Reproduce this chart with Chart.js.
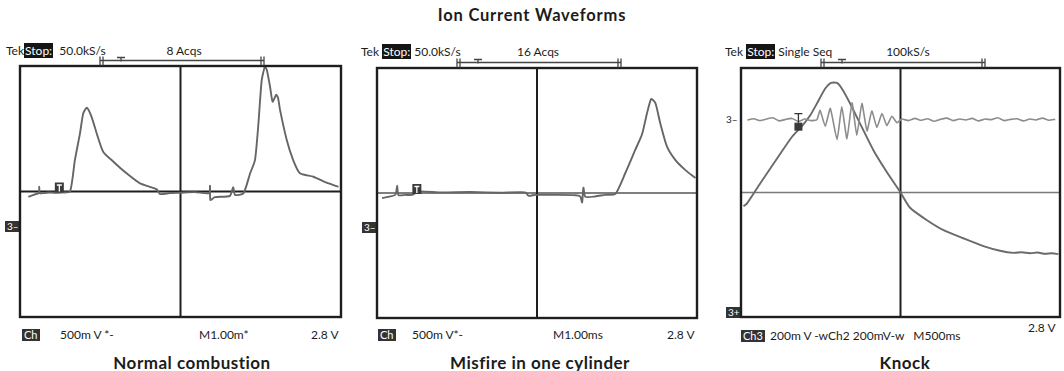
<!DOCTYPE html>
<html><head><meta charset="utf-8">
<script src="https://cdn.jsdelivr.net/npm/chart.js@4.4.1/dist/chart.umd.min.js"></script>
<style>
html,body{margin:0;padding:0;background:#fff;overflow:hidden;width:1064px;height:371px;}
body{position:relative;font-family:Lato,"Open Sans",sans-serif;color:#1c1c1c;}
.t{position:absolute;white-space:nowrap;font-size:12px;line-height:12px;}
.c{transform:translateX(-50%);}
.inv{background:#151515;color:#fff;padding:0 1px;}
.box{background:#333;color:#fff;padding:0 2px;font-size:11px;}
.sub{position:absolute;white-space:nowrap;font-weight:700;font-size:17px;letter-spacing:0.5px;line-height:18px;transform:translateX(-50%);}
canvas{position:absolute;}
</style></head><body>
<div class="sub" style="left:532px;top:6px;font-size:16.5px;letter-spacing:0.8px">Ion Current Waveforms</div>

<div class="t" style="left:6px;top:45px">Tek<span class="inv">Stop:</span>&nbsp; 50.0kS/s</div>
<div class="t c" style="left:184px;top:45px">8 Acqs</div>
<div class="t" style="left:361px;top:46px">Tek <span class="inv">Stop:</span> 50.0kS/s</div>
<div class="t c" style="left:538px;top:46px">16 Acqs</div>
<div class="t" style="left:725px;top:46px">Tek <span class="inv">Stop:</span> Single Seq</div>
<div class="t c" style="left:908px;top:46px">100kS/s</div>

<div class="t box" style="left:5px;top:221px;font-size:10px;line-height:11px">3&#8211;</div>
<div class="t box" style="left:362px;top:222px;font-size:10px;line-height:11px">3&#8211;</div>
<div class="t" style="left:726px;top:113px;font-size:10px">3&#8211;</div>
<div class="t box" style="left:726px;top:307px;font-size:10px;line-height:11px">3+</div>

<div class="t box" style="left:22px;top:329px">Ch</div>
<div class="t" style="left:60px;top:329px">500m V *-</div>
<div class="t" style="left:199px;top:329px">M1.00m*</div>
<div class="t" style="left:311px;top:329px">2.8 V</div>
<div class="t box" style="left:378px;top:329px">Ch</div>
<div class="t" style="left:412px;top:329px">500m V*-</div>
<div class="t" style="left:553px;top:329px">M1.00ms</div>
<div class="t" style="left:667px;top:329px">2.8 V</div>
<div class="t box" style="left:741px;top:330px">Ch3</div>
<div class="t" style="left:770px;top:330px">200m V -wCh2 200mV-w&nbsp;&nbsp; M500ms</div>
<div class="t" style="left:1028px;top:322px">2.8 V</div>

<div class="sub" style="left:192px;top:354px">Normal combustion</div>
<div class="sub" style="left:540px;top:354px">Misfire in one cylinder</div>
<div class="sub" style="left:905px;top:354px">Knock</div>

<canvas id="c1" width="352" height="290" style="left:0px;top:40px"></canvas>
<canvas id="c2" width="348" height="290" style="left:356px;top:40px"></canvas>
<canvas id="c3" width="348" height="290" style="left:716px;top:40px"></canvas>

<script>
// ---- Data (x in divisions 0..10, y in divisions -4..4) ----
const normalX = [0.26,0.50,0.59,0.60,0.62,0.93,1.04,1.31,1.56,1.71,1.87,1.97,2.08,2.23,2.39,2.59,2.91,3.32,3.74,4.26,4.36,4.67,4.98,5.45,5.89,5.92,5.93,6.07,6.54,6.64,6.70,6.96,7.17,7.32,7.42,7.53,7.63,7.69,7.79,7.87,7.98,8.04,8.10,8.31,8.51,8.72,9.14,9.55,9.92];
const normalY = [-0.17,-0.08,-0.05,0.15,-0.05,-0.03,-0.04,-0.03,0.00,1.00,1.86,2.49,2.67,2.38,1.85,1.27,0.95,0.58,0.26,0.07,-0.08,-0.05,-0.04,-0.02,-0.05,0.18,-0.27,-0.18,-0.14,0.14,-0.11,-0.06,0.58,1.00,2.07,3.55,3.98,3.87,3.34,2.86,3.08,2.98,2.60,1.64,1.00,0.58,0.47,0.28,0.15];

const misfireX = [0.16,0.57,0.63,0.67,0.88,1.09,1.30,1.98,2.92,3.85,4.63,4.74,4.95,5.57,6.20,6.35,6.41,6.45,6.51,6.82,7.13,7.45,7.76,8.07,8.28,8.44,8.57,8.70,8.85,9.06,9.32,9.63,9.95];
const misfireY = [-0.16,-0.06,0.23,-0.07,-0.06,-0.06,0.05,0.02,0.03,0.01,0.02,-0.09,-0.06,-0.06,-0.07,-0.11,-0.30,0.17,-0.12,-0.11,-0.06,-0.03,0.64,1.38,1.87,2.56,3.01,2.88,2.24,1.49,1.06,0.74,0.48];

const knockCh2X = [0.08,0.19,0.60,1.13,1.60,1.91,2.17,2.38,2.64,2.82,3.01,3.16,3.42,3.73,4.15,4.57,4.99,5.30,5.83,6.35,6.97,7.60,8.12,8.54,8.80,9.06,9.30,9.53,9.75,9.95];
const knockCh2Y = [-0.44,-0.35,0.29,1.09,1.79,2.13,2.48,2.86,3.34,3.52,3.52,3.34,2.86,2.22,1.36,0.66,0.02,-0.49,-0.89,-1.21,-1.47,-1.72,-1.87,-1.94,-1.92,-1.95,-1.93,-1.97,-1.95,-1.98];

const knockCh3X = [0.20,0.40,0.60,0.80,1.00,1.20,1.40,1.60,1.80,2.00,2.20,2.38,2.48,2.64,2.80,3.01,3.16,3.32,3.48,3.63,3.79,3.95,4.10,4.26,4.42,4.57,4.73,4.89,5.04,5.25,5.45,5.65,5.85,6.05,6.25,6.45,6.65,6.85,7.05,7.25,7.45,7.65,7.85,8.05,8.25,8.45,8.65,8.85,9.05,9.25,9.45,9.65,9.85];
const knockCh3Y = [2.33,2.37,2.31,2.36,2.40,2.30,2.35,2.38,2.28,2.36,2.31,2.34,2.64,2.13,2.70,1.70,2.75,1.73,2.88,1.84,2.86,1.98,2.62,2.09,2.54,2.15,2.45,2.24,2.36,2.31,2.38,2.32,2.37,2.29,2.35,2.39,2.31,2.36,2.33,2.38,2.30,2.36,2.34,2.40,2.31,2.35,2.37,2.30,2.36,2.33,2.39,2.32,2.35];

const trigger1 = 1.21, trigger2 = 1.23, trigger3 = 1.80;

function pts(xs, ys){ return xs.map((x,i)=>({x:x, y:ys[i]})); }

const scopePlugin = {
  id:'scope',
  beforeDatasetsDraw(chart, args, o){
    const {ctx, chartArea:a, scales:{x,y}} = chart;
    ctx.save();
    const cx = x.getPixelForValue(5), cy = y.getPixelForValue(0);
    ctx.strokeStyle = o.hColor; ctx.lineWidth = o.hWidth;
    ctx.beginPath(); ctx.moveTo(a.left, cy); ctx.lineTo(a.right, cy); ctx.stroke();
    ctx.strokeStyle = '#1e1e1e'; ctx.lineWidth = 2;
    ctx.beginPath(); ctx.moveTo(cx, a.top); ctx.lineTo(cx, a.bottom); ctx.stroke();
    ctx.restore();
  },
  afterDatasetsDraw(chart, args, o){
    const {ctx, chartArea:a, scales:{x,y}} = chart;
    ctx.save();
    ctx.strokeStyle = '#1e1e1e'; ctx.lineWidth = 2.4;
    ctx.strokeRect(a.left, a.top, a.right-a.left, a.bottom-a.top);
    const by = a.top - 5.5;
    ctx.strokeStyle = '#444'; ctx.lineWidth = 1.6;
    ctx.beginPath(); ctx.moveTo(a.left+80, by); ctx.lineTo(a.left+244, by); ctx.stroke();
    ctx.lineWidth = 1.3;
    [80,83,241,244].forEach(d=>{ ctx.beginPath(); ctx.moveTo(a.left+d, by-4); ctx.lineTo(a.left+d, by+5); ctx.stroke(); });
    ctx.beginPath(); ctx.moveTo(a.left+97, by-3); ctx.lineTo(a.left+105, by-3);
    ctx.moveTo(a.left+101, by-3); ctx.lineTo(a.left+101, by+1); ctx.stroke();
    const tx = x.getPixelForValue(o.trigX), ty = y.getPixelForValue(o.trigY);
    if (o.trigStyle === 'knock') {
      ctx.fillStyle = '#3a3a3a'; ctx.fillRect(tx-4, ty+3, 8, 8);
      ctx.strokeStyle = '#333'; ctx.lineWidth = 1.3;
      ctx.beginPath(); ctx.moveTo(tx-4, ty-6); ctx.lineTo(tx+4, ty-6);
      ctx.moveTo(tx, ty-6); ctx.lineTo(tx, ty+3); ctx.stroke();
    } else {
      ctx.fillStyle = '#3a3a3a'; ctx.fillRect(tx-4, ty-9, 9, 10);
      ctx.strokeStyle = '#fff'; ctx.lineWidth = 1.3;
      ctx.beginPath(); ctx.moveTo(tx-2, ty-6.5); ctx.lineTo(tx+3, ty-6.5);
      ctx.moveTo(tx+0.5, ty-6.5); ctx.lineTo(tx+0.5, ty); ctx.stroke();
    }
    ctx.restore();
  }
};

function makeChart(id, datasets, pad, opts){
  return new Chart(document.getElementById(id), {
    type:'line',
    data:{ datasets: datasets },
    options:{
      responsive:false, animation:false, devicePixelRatio:1,
      layout:{ padding: pad },
      scales:{
        x:{ type:'linear', min:0, max:10, display:false },
        y:{ type:'linear', min:-4, max:4, display:false }
      },
      plugins:{ legend:{display:false}, tooltip:{enabled:false}, scope: opts },
      elements:{ point:{ radius:0 } }
    },
    plugins:[scopePlugin]
  });
}

makeChart('c1', [
  { data: pts(normalX, normalY), borderColor:'#666', borderWidth:1.9, tension:0.2, fill:false }
], {left:20, top:26, right:11, bottom:13}, {hColor:'#1e1e1e', hWidth:2, trigX:trigger1, trigY:0});

makeChart('c2', [
  { data: pts(misfireX, misfireY), borderColor:'#666', borderWidth:1.9, tension:0.2, fill:false }
], {left:21, top:28, right:7, bottom:12}, {hColor:'#555', hWidth:1.6, trigX:trigger2, trigY:0});

makeChart('c3', [
  { data: pts(knockCh3X, knockCh3Y), borderColor:'#8c8c8c', borderWidth:1.6, tension:0.15, fill:false },
  { data: pts(knockCh2X, knockCh2Y), borderColor:'#6a6a6a', borderWidth:1.9, tension:0.2, fill:false }
], {left:25, top:28, right:4, bottom:13}, {hColor:'#7a7a7a', hWidth:1.5, trigX:trigger3, trigY:2.34, trigStyle:'knock'});
</script>
</body></html>
